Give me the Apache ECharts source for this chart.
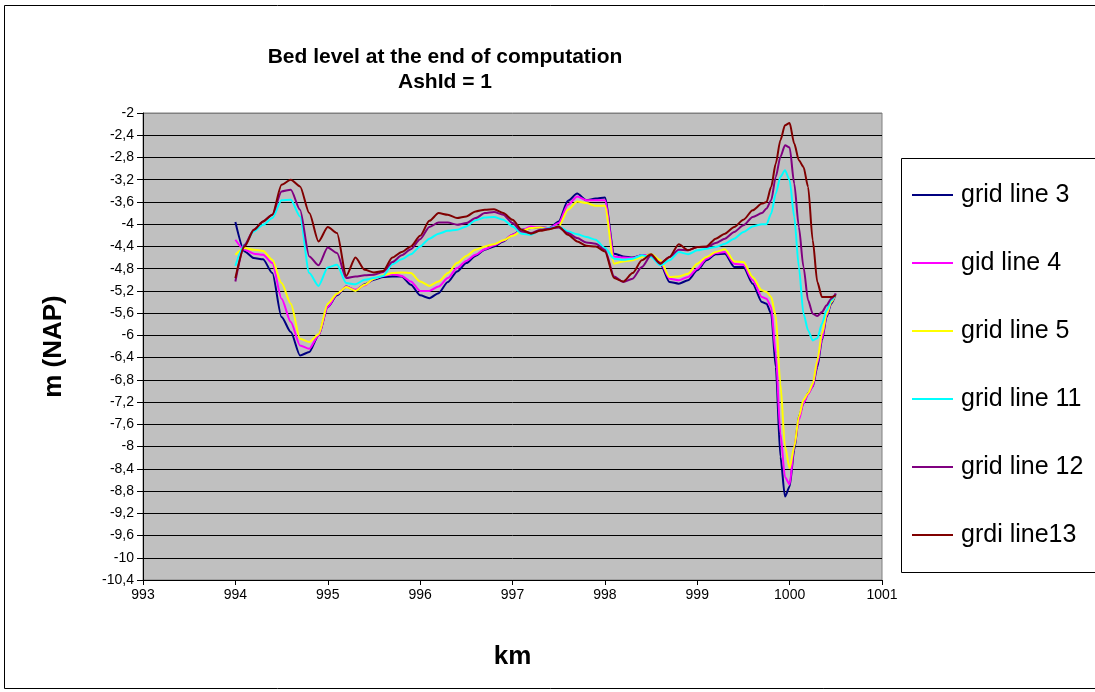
<!DOCTYPE html>
<html>
<head>
<meta charset="utf-8">
<title>Bed level at the end of computation</title>
<script src="https://cdn.jsdelivr.net/npm/echarts@6/dist/echarts.min.js"></script>
<style>
  html, body { margin: 0; padding: 0; background: #fff; }
  #main { width: 1095px; height: 692px; }
</style>
</head>
<body>
<div id="main"></div>
<script>
// km positions along the river
var km = [
  994.0, 994.1, 994.2, 994.3, 994.4, 994.5, 994.6, 994.7, 994.8, 994.9,
  995.0, 995.1, 995.2, 995.3, 995.4, 995.5, 995.6, 995.7, 995.8, 995.9,
  996.0, 996.1, 996.2, 996.3, 996.4, 996.5, 996.6, 996.7, 996.8, 996.9,
  997.0, 997.1, 997.2, 997.3, 997.4, 997.5, 997.6, 997.7, 997.8, 997.9,
  998.0, 998.1, 998.2, 998.3, 998.4, 998.5, 998.6, 998.7, 998.8, 998.9,
  999.0, 999.1, 999.2, 999.3, 999.4, 999.5, 999.6, 999.7, 999.75, 999.8,
  999.85, 999.9, 999.95, 1000.0, 1000.05, 1000.1, 1000.15, 1000.2, 1000.25, 1000.3,
  1000.35, 1000.4, 1000.45, 1000.5
];

// bed level m (NAP) per grid line
var gridLine3 = [
  -3.96, -4.49, -4.61, -4.63, -4.88, -5.67, -5.94, -6.36, -6.30, -6.00,
  -5.49, -5.28, -5.12, -5.20, -5.08, -5.00, -4.95, -4.94, -4.94, -5.09,
  -5.28, -5.33, -5.24, -5.04, -4.85, -4.70, -4.57, -4.46, -4.40, -4.31,
  -4.19, -4.10, -4.07, -4.06, -4.07, -3.95, -3.58, -3.45, -3.57, -3.54,
  -3.52, -4.53, -4.58, -4.60, -4.56, -4.55, -4.71, -5.04, -5.07, -5.01,
  -4.83, -4.65, -4.54, -4.53, -4.77, -4.77, -5.07, -5.40, -5.43, -5.61,
  -6.57, -8.18, -8.90, -8.72, -8.06, -7.46, -7.22, -7.04, -6.92, -6.57,
  -6.09, -5.67, -5.43, -5.25
];
var gidLine4 = [
  -4.28, -4.46, -4.53, -4.55, -4.70, -5.34, -5.76, -6.18, -6.24, -6.00,
  -5.49, -5.26, -5.12, -5.18, -5.10, -4.98, -4.93, -4.90, -4.93, -5.03,
  -5.20, -5.20, -5.12, -4.97, -4.79, -4.66, -4.55, -4.45, -4.38, -4.30,
  -4.19, -4.11, -4.04, -4.06, -4.07, -3.98, -3.65, -3.50, -3.57, -3.57,
  -3.57, -4.58, -4.60, -4.61, -4.56, -4.55, -4.68, -4.98, -5.01, -4.95,
  -4.80, -4.62, -4.52, -4.50, -4.71, -4.73, -5.01, -5.31, -5.34, -5.49,
  -6.33, -7.76, -8.55, -8.68, -8.00, -7.52, -7.22, -7.06, -6.92, -6.51,
  -6.06, -5.64, -5.40, -5.24
];
var gridLine5 = [
  -4.55, -4.43, -4.46, -4.48, -4.64, -5.06, -5.43, -6.06, -6.12, -5.98,
  -5.43, -5.25, -5.13, -5.20, -5.09, -4.98, -4.92, -4.88, -4.87, -4.88,
  -5.03, -5.11, -5.03, -4.88, -4.70, -4.57, -4.46, -4.40, -4.36, -4.29,
  -4.21, -4.12, -4.07, -4.06, -4.09, -4.04, -3.74, -3.59, -3.62, -3.67,
  -3.67, -4.71, -4.67, -4.65, -4.59, -4.54, -4.65, -4.95, -4.94, -4.89,
  -4.71, -4.59, -4.50, -4.45, -4.67, -4.68, -4.95, -5.19, -5.22, -5.31,
  -5.65, -6.87, -8.00, -8.39, -8.00, -7.46, -7.16, -7.04, -6.87, -6.45,
  -5.97, -5.61, -5.40, -5.25
];
var gridLine11 = [
  -4.75, -4.37, -4.13, -4.01, -3.89, -3.57, -3.56, -3.86, -4.88, -5.11,
  -4.78, -4.73, -5.06, -5.08, -5.00, -4.97, -4.93, -4.72, -4.63, -4.54,
  -4.40, -4.26, -4.17, -4.12, -4.10, -4.04, -3.93, -3.88, -3.87, -3.92,
  -4.04, -4.17, -4.19, -4.10, -4.07, -4.04, -4.13, -4.18, -4.23, -4.28,
  -4.43, -4.62, -4.64, -4.62, -4.56, -4.59, -4.74, -4.65, -4.50, -4.54,
  -4.47, -4.44, -4.41, -4.35, -4.26, -4.14, -4.04, -4.00, -4.00, -3.81,
  -3.45, -3.15, -3.03, -3.21, -3.87, -4.77, -5.61, -5.91, -6.09, -6.05,
  -5.79, -5.55, -5.37, -5.25
];
var gridLine12 = [
  -5.03, -4.37, -4.10, -3.95, -3.83, -3.41, -3.38, -3.74, -4.58, -4.74,
  -4.42, -4.52, -4.97, -4.94, -4.92, -4.91, -4.86, -4.68, -4.56, -4.45,
  -4.27, -4.05, -3.97, -3.97, -4.01, -3.98, -3.89, -3.80, -3.78, -3.83,
  -3.98, -4.13, -4.16, -4.10, -4.08, -4.06, -4.16, -4.25, -4.33, -4.35,
  -4.46, -4.94, -5.04, -4.98, -4.77, -4.56, -4.71, -4.59, -4.46, -4.47,
  -4.41, -4.41, -4.34, -4.26, -4.14, -4.02, -3.87, -3.80, -3.72, -3.57,
  -3.15, -2.79, -2.58, -2.62, -3.27, -4.05, -4.77, -5.37, -5.61, -5.65,
  -5.58, -5.46, -5.34, -5.25
];
var grdiLine13 = [
  -4.97, -4.40, -4.10, -3.95, -3.83, -3.29, -3.20, -3.32, -3.80, -4.31,
  -4.05, -4.16, -4.93, -4.60, -4.82, -4.87, -4.84, -4.60, -4.50, -4.40,
  -4.21, -3.94, -3.80, -3.83, -3.89, -3.86, -3.77, -3.74, -3.73, -3.80,
  -3.92, -4.10, -4.17, -4.12, -4.09, -4.04, -4.19, -4.31, -4.39, -4.40,
  -4.49, -4.97, -5.03, -4.88, -4.65, -4.54, -4.71, -4.59, -4.36, -4.47,
  -4.41, -4.40, -4.26, -4.17, -4.05, -3.92, -3.75, -3.63, -3.60, -3.33,
  -2.91, -2.49, -2.22, -2.18, -2.55, -2.85, -2.97, -3.33, -4.29, -5.04,
  -5.31, -5.31, -5.31, -5.28
];

var seriesNames = ["grid line 3", "gid line 4", "grid line 5", "grid line 11", "grid line 12", "grdi line13"];
var seriesColors = ["#000080", "#ff00ff", "#ffff00", "#00ffff", "#800080", "#800000"];
var seriesValues = [gridLine3, gidLine4, gridLine5, gridLine11, gridLine12, grdiLine13];

var font = "Liberation Sans, Arial, sans-serif";

function pairs(values) {
  return km.map(function (k, i) {
    return [k, values[i]];
  });
}

// 22 horizontal grid lines, the top one is the grey plot border
var splitColors = [];
for (var i = 0; i < 21; i++) splitColors.push("#000000");
splitColors.push("#808080");

var myChart = echarts.init(document.getElementById("main"));

var option = {
  animation: false,
  textStyle: { fontFamily: font, color: "#000" },
  graphic: [
    {
      type: "rect",
      shape: { x: 4.5, y: 5.5, width: 1110, height: 683 },
      style: { fill: null, stroke: "#000", lineWidth: 1 },
      silent: true,
    },
    {
      type: "rect",
      shape: { x: 901.5, y: 158.5, width: 220, height: 414 },
      style: { fill: "#fff", stroke: "#000", lineWidth: 1 },
      silent: true,
      z: -1,
    },
    {
      type: "text",
      x: 445,
      y: 57,
      style: {
        text: "Bed level at the end of computation",
        font: "bold 21px " + font,
        fill: "#000",
        textAlign: "center",
        textVerticalAlign: "middle",
      },
    },
    {
      type: "text",
      x: 445,
      y: 82,
      style: {
        text: "AshId = 1",
        font: "bold 21px " + font,
        fill: "#000",
        textAlign: "center",
        textVerticalAlign: "middle",
      },
    },
  ],
  legend: {
    orient: "vertical",
    left: 912,
    top: 181,
    padding: 0,
    itemGap: 40,
    itemWidth: 41,
    itemHeight: 2,
    icon: "rect",
    data: seriesNames,
    textStyle: {
      fontFamily: font,
      fontSize: 25,
      lineHeight: 28,
      color: "#000",
      padding: [0, 0, 0, 3],
    },
  },
  grid: {
    left: 143,
    top: 113,
    right: 213,
    bottom: 112,
    show: true,
    backgroundColor: "#c0c0c0",
    borderColor: "#808080",
    borderWidth: 1,
  },
  xAxis: {
    type: "value",
    min: 993,
    max: 1001,
    interval: 1,
    name: "km",
    nameLocation: "middle",
    nameGap: 64,
    nameTextStyle: { fontFamily: font, fontSize: 26, fontWeight: "bold", color: "#000" },
    axisLine: { onZero: false, lineStyle: { color: "#000", width: 1 } },
    axisTick: { show: true, inside: false, length: 5, lineStyle: { color: "#000" } },
    axisLabel: {
      fontFamily: font,
      fontSize: 14,
      color: "#000",
      margin: 8,
      formatter: function (v) {
        return String(v);
      },
    },
    splitLine: { show: false },
  },
  yAxis: {
    type: "value",
    min: -10.4,
    max: -2,
    interval: 0.4,
    name: "m (NAP)",
    nameLocation: "middle",
    nameGap: 76,
    nameTextStyle: { fontFamily: font, fontSize: 26, fontWeight: "bold", color: "#000" },
    axisLine: { show: true, lineStyle: { color: "#000", width: 1 } },
    axisTick: { show: true, inside: false, length: 6, lineStyle: { color: "#000" } },
    axisLabel: {
      fontFamily: font,
      fontSize: 14,
      color: "#000",
      margin: 9,
      formatter: function (v) {
        return String(Math.round(v * 10) / 10).replace(".", ",");
      },
    },
    splitLine: { show: true, lineStyle: { color: splitColors, width: 1 } },
  },
  series: seriesValues.map(function (values, i) {
    return {
      name: seriesNames[i],
      type: "line",
      data: pairs(values),
      showSymbol: false,
      symbol: "none",
      smooth: 0.25,
      smoothMonotone: "x",
      lineStyle: { color: seriesColors[i], width: 2 },
      itemStyle: { color: seriesColors[i] },
    };
  }),
};

option && myChart.setOption(option);
</script>
</body>
</html>
